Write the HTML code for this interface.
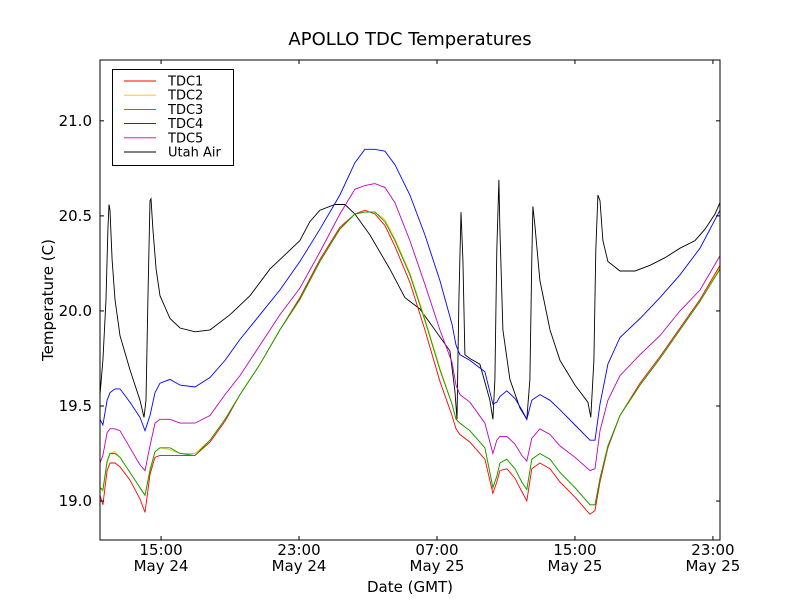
<!DOCTYPE html>
<html><head><meta charset="utf-8"><style>
html,body{margin:0;padding:0;background:#fff;}
svg{display:block;font-family:"DejaVu Sans","Liberation Sans",sans-serif;}
</style></head><body>
<svg id="chart" width="800" height="600" viewBox="0 0 800 600"></svg>
<script>
const xTickHours = [15, 23, 31, 39, 47];
const xTickLabels1 = ["15:00","23:00","07:00","15:00","23:00"];
const xTickLabels2 = ["May 24","May 24","May 25","May 25","May 25"];
const yTicks = [19.0, 19.5, 20.0, 20.5, 21.0];
const yTickLabels = ["19.0","19.5","20.0","20.5","21.0"];
const seriesNames = ["TDC1","TDC2","TDC3","TDC4","TDC5","Utah Air"];
const tdcTimes = [11.46,11.63,11.87,12.04,12.33,12.62,13.20,13.78,14.07,14.36,14.65,14.94,15.52,16.10,16.97,17.84,18.71,19.58,20.74,21.89,23.05,24.21,25.37,26.24,26.82,27.40,27.98,28.56,29.43,30.30,31.17,31.87,32.10,32.33,32.91,33.78,34.24,34.47,34.65,35.05,35.52,35.92,36.21,36.50,36.97,37.55,38.13,39.00,39.87,40.16,40.45,40.91,41.61,42.77,43.93,45.09,46.25,47.41];
const tdc1 = [19.03,18.98,19.16,19.20,19.20,19.18,19.11,19.01,18.94,19.14,19.23,19.24,19.24,19.24,19.24,19.31,19.42,19.56,19.72,19.90,20.07,20.27,20.44,20.51,20.53,20.51,20.45,20.34,20.15,19.90,19.63,19.45,19.38,19.35,19.31,19.22,19.04,19.10,19.16,19.17,19.12,19.05,19.00,19.17,19.20,19.17,19.10,19.02,18.93,18.95,19.10,19.28,19.45,19.62,19.76,19.91,20.06,20.24];
const tdc2 = [19.07,19.05,19.20,19.25,19.26,19.23,19.15,19.07,19.03,19.17,19.26,19.28,19.27,19.25,19.25,19.32,19.43,19.56,19.72,19.90,20.06,20.26,20.43,20.51,20.52,20.52,20.48,20.38,20.20,19.96,19.70,19.51,19.43,19.41,19.37,19.28,19.07,19.13,19.20,19.22,19.17,19.10,19.06,19.22,19.25,19.22,19.15,19.07,18.98,18.98,19.12,19.29,19.45,19.61,19.75,19.90,20.05,20.23];
const tdc3 = [19.07,19.06,19.21,19.25,19.25,19.23,19.15,19.07,19.03,19.16,19.26,19.28,19.28,19.25,19.24,19.32,19.43,19.56,19.72,19.90,20.06,20.26,20.43,20.51,20.52,20.52,20.47,20.37,20.19,19.95,19.69,19.51,19.43,19.41,19.37,19.28,19.07,19.13,19.20,19.22,19.17,19.10,19.06,19.22,19.25,19.22,19.15,19.07,18.98,18.98,19.12,19.29,19.45,19.61,19.75,19.90,20.05,20.22];
const tdc4 = [19.43,19.40,19.53,19.57,19.59,19.59,19.52,19.44,19.37,19.45,19.57,19.62,19.64,19.61,19.60,19.65,19.74,19.85,19.98,20.11,20.26,20.43,20.61,20.78,20.85,20.85,20.84,20.77,20.61,20.40,20.16,19.93,19.82,19.77,19.74,19.68,19.51,19.52,19.55,19.58,19.54,19.48,19.43,19.53,19.56,19.53,19.48,19.40,19.32,19.32,19.51,19.72,19.86,19.96,20.07,20.19,20.33,20.53];
const tdc5 = [19.20,19.24,19.36,19.38,19.38,19.37,19.28,19.19,19.16,19.29,19.41,19.43,19.43,19.41,19.41,19.45,19.56,19.66,19.82,19.98,20.12,20.31,20.51,20.64,20.66,20.67,20.65,20.57,20.37,20.14,19.90,19.73,19.61,19.56,19.52,19.41,19.25,19.32,19.34,19.34,19.30,19.24,19.21,19.33,19.38,19.35,19.29,19.23,19.16,19.17,19.37,19.53,19.66,19.77,19.87,20.00,20.11,20.29];
const airTimes = [11.46,11.63,11.81,11.92,11.98,12.04,12.16,12.33,12.62,13.20,13.78,14.01,14.13,14.24,14.36,14.42,14.53,14.71,14.94,15.52,16.10,16.97,17.84,19.00,20.16,21.31,22.47,23.05,23.63,24.21,25.08,25.66,26.24,27.11,28.27,29.14,30.01,30.88,31.75,32.04,32.16,32.27,32.39,32.50,32.62,32.91,33.49,34.07,34.24,34.36,34.47,34.59,34.65,34.82,35.23,35.81,36.21,36.39,36.50,36.56,36.68,36.97,37.55,38.13,39.00,39.75,39.92,40.10,40.21,40.33,40.45,40.62,40.91,41.61,42.48,43.35,44.22,45.09,45.96,46.54,47.12,47.41];
const utahAir = [19.56,19.74,20.06,20.43,20.56,20.53,20.27,20.06,19.87,19.69,19.53,19.44,19.53,20.06,20.58,20.59,20.43,20.22,20.08,19.96,19.91,19.89,19.90,19.98,20.08,20.22,20.32,20.37,20.47,20.53,20.56,20.56,20.51,20.40,20.22,20.07,20.01,19.90,19.79,19.58,19.43,20.06,20.52,20.27,19.77,19.75,19.72,19.53,19.43,19.64,20.32,20.69,20.43,19.90,19.64,19.49,19.43,19.64,20.27,20.55,20.45,20.16,19.90,19.74,19.61,19.52,19.44,19.74,20.32,20.61,20.58,20.37,20.26,20.21,20.21,20.24,20.28,20.33,20.37,20.43,20.51,20.57];

const L=100,R=720,T=60,B=540;
const X0=11.46,X1=47.41,Y0=18.795,Y1=21.32;
const xs=t=>L+(t-X0)/(X1-X0)*(R-L);
const ys=v=>B-(v-Y0)/(Y1-Y0)*(B-T);
const NS="http://www.w3.org/2000/svg";
const svg=document.getElementById('chart');
function mk(tag,attrs,parent){const e=document.createElementNS(NS,tag);for(const k in attrs)e.setAttribute(k,attrs[k]);(parent||svg).appendChild(e);return e;}

const clip=mk('clipPath',{id:'pc'});mk('rect',{x:L,y:T,width:R-L,height:B-T},clip);

const seriesData=[[tdcTimes,tdc1,'#ff0000','tdc1-line'],[tdcTimes,tdc2,'#ffbf00','tdc2-line'],[tdcTimes,tdc3,'#00a000','tdc3-line'],[tdcTimes,tdc4,'#0000ff','tdc4-line'],[tdcTimes,tdc5,'#bf00bf','tdc5-line'],[airTimes,utahAir,'#000000','utah-air-line']];
const order=[5,3,4,0,1,2];
order.forEach(i=>{
  const [tt,vv,c,n]=seriesData[i];
  const d=tt.map((t,j)=>(j?'L':'M')+xs(t).toFixed(1)+','+ys(vv[j]).toFixed(1)).join('');
  const p=mk('path',{d:d,fill:'none',stroke:c,'stroke-width':0.9,'clip-path':'url(#pc)'});
  
  
});

const frame=mk('rect',{x:L,y:T,width:R-L,height:B-T,fill:'none',stroke:'#000','stroke-width':1});



xTickHours.forEach((h,i)=>{
  const x=xs(h);
  mk('line',{x1:x,x2:x,y1:B,y2:B-4,stroke:'#000'});
  mk('line',{x1:x,x2:x,y1:T,y2:T+4,stroke:'#000'});
  const t=mk('text',{x:x,y:B+15,'font-size':15,'text-anchor':'middle'});t.textContent=xTickLabels1[i];
  
  
  const t2=mk('text',{x:x,y:B+31,'font-size':15,'text-anchor':'middle'});t2.textContent=xTickLabels2[i];
  
  
});
yTicks.forEach((v,i)=>{
  const y=ys(v);
  mk('line',{x1:L,x2:L+4,y1:y,y2:y,stroke:'#000'});
  mk('line',{x1:R,x2:R-4,y1:y,y2:y,stroke:'#000'});
  const t=mk('text',{x:L-8,y:y+5,'font-size':15,'text-anchor':'end'});t.textContent=yTickLabels[i];
  
  
});

const lg=mk('g',{});


mk('rect',{x:112.5,y:69.5,width:121,height:96,fill:'#fff',stroke:'#000','stroke-width':1},lg);
seriesData.forEach((s,i)=>{
  const y=81+i*14.2;
  const g=mk('g',{},lg);
  
  
  mk('line',{x1:124,x2:156,y1:y,y2:y,stroke:s[2],'stroke-width':0.9},g);
  const t=mk('text',{x:168,y:y+4.5,'font-size':13},g);t.textContent=seriesNames[i];
});
</script>
<div style="position:absolute;left:0;top:0;width:800px;height:600px;pointer-events:none;">
<svg width="800" height="600" style="position:absolute;left:0;top:0;font-family:'DejaVu Sans','Liberation Sans',sans-serif;">
<text x="410" y="45" font-size="18" text-anchor="middle">APOLLO TDC Temperatures</text>
<text x="410" y="592" font-size="15" text-anchor="middle">Date (GMT)</text>
<text x="53" y="300" font-size="15" text-anchor="middle" transform="rotate(-90 53 300)">Temperature (C)</text>
</svg></div>
</body></html>
